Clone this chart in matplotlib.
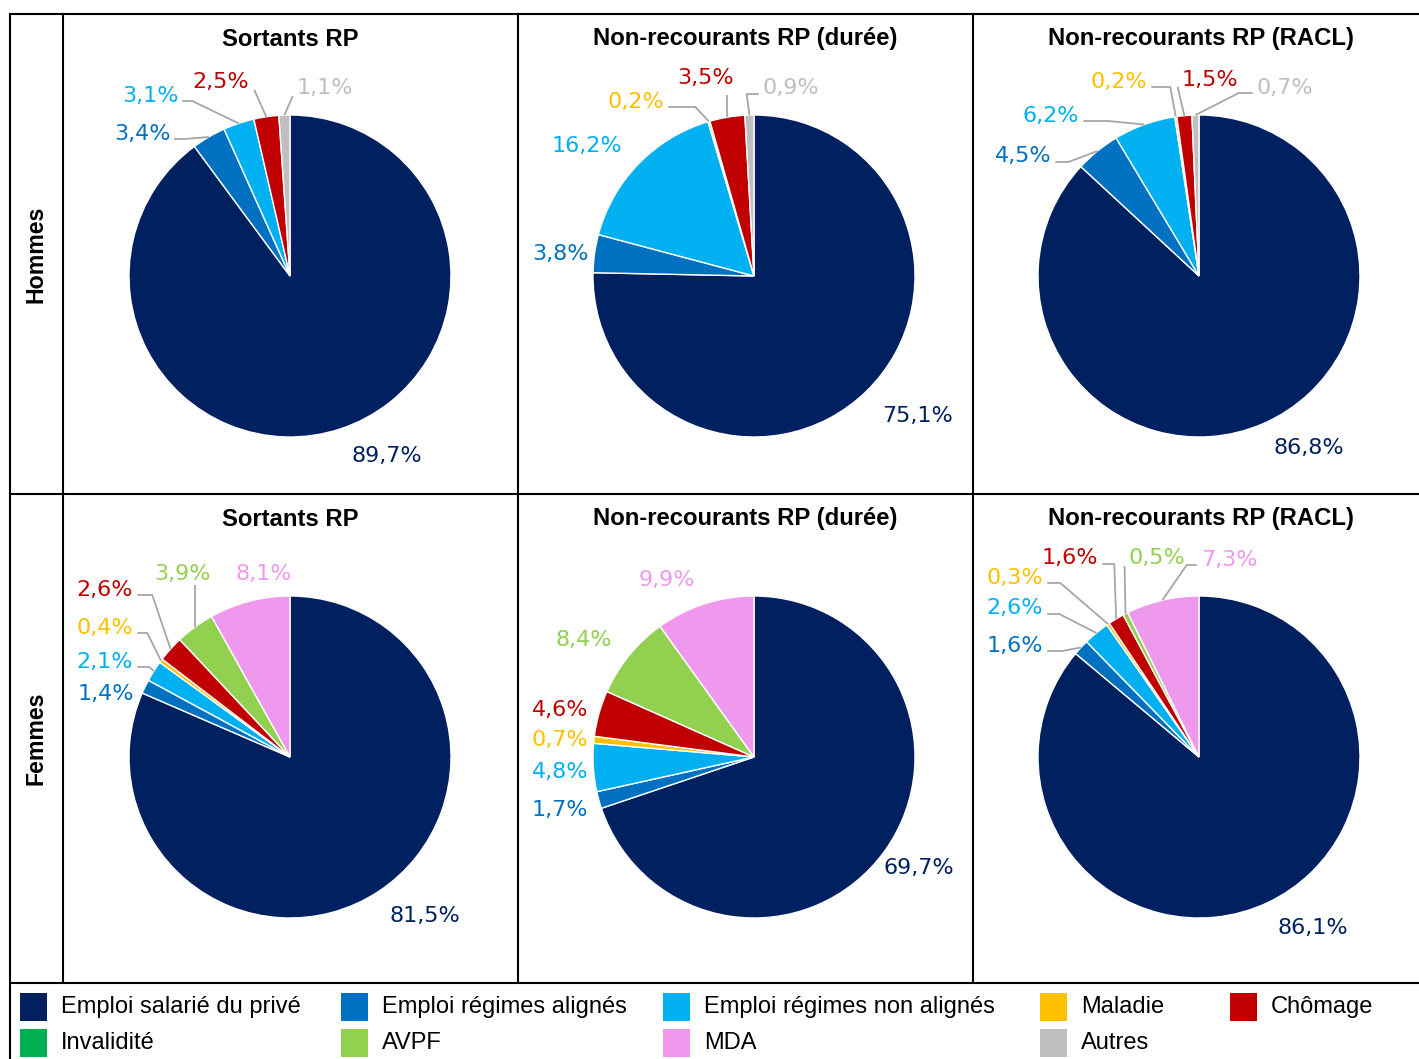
import numpy as np
import matplotlib
matplotlib.use("Agg")
import matplotlib.pyplot as plt
from matplotlib.patches import Rectangle

W, H = 1419, 1059

categories = ["Emploi salarié du privé", "Emploi régimes alignés", "Emploi régimes non alignés",
              "Maladie", "Chômage", "Invalidité", "AVPF", "MDA", "Autres"]
colors = ["#002060", "#0070C0", "#00B0F0", "#FFC000", "#C00000",
          "#00B050", "#92D050", "#EE99EE", "#BFBFBF"]

row_labels = ["Hommes", "Femmes"]
col_titles = ["Sortants RP", "Non-recourants RP (durée)", "Non-recourants RP (RACL)"]

# parts en %, dans l'ordre des categories
hommes_sortants = [89.7, 3.4, 3.1, 0.0, 2.5, 0.0, 0.0, 0.0, 1.1]
hommes_duree = [75.1, 3.8, 16.2, 0.2, 3.5, 0.0, 0.0, 0.0, 0.9]
hommes_racl = [86.8, 4.5, 6.2, 0.2, 1.5, 0.0, 0.0, 0.0, 0.7]
femmes_sortants = [81.5, 1.4, 2.1, 0.4, 2.6, 0.0, 3.9, 8.1, 0.0]
femmes_duree = [69.7, 1.7, 4.8, 0.7, 4.6, 0.0, 8.4, 9.9, 0.0]
femmes_racl = [86.1, 1.6, 2.6, 0.3, 1.6, 0.0, 0.5, 7.3, 0.0]

pies = [[hommes_sortants, hommes_duree, hommes_racl],
        [femmes_sortants, femmes_duree, femmes_racl]]

# layout (pixels): pie centres, radius, table grid (right border lies just off the image)
pie_cx = [290, 754, 1199]
pie_cy = [276, 757]
R = 161
col_x = [10, 63, 518, 973, 1428]
row_y = [14, 494, 983]

# label placement (x, y, leader style, length) for the non-zero slices, in order
label_layout = [
    [[(387, 454, None, 0), (142, 132, 'r', 10), (150, 94, 'r', 10), (221, 80, 'rb', 0), (325, 87, 'lb', 0)],
     [(918, 414, None, 0), (560, 252, None, 0), (587, 144, None, 0), (636, 100, 'r', 27),
      (706, 76, 'b', 7), (791, 87, 'l', 12)],
     [(1309, 447, None, 0), (1023, 155, 'r', 13), (1051, 114, 'r', 25), (1119, 80, 'r', 19),
      (1210, 78, 'lb', 0), (1285, 86, 'l', 14)]],
    [[(425, 915, None, 0), (106, 692, None, 0), (105, 660, 'r', 12), (105, 626, 'r', 10),
      (105, 588, 'r', 15), (183, 572, 'b', 1), (264, 573, None, 0)],
     [(919, 867, None, 0), (560, 808, None, 0), (560, 771, None, 0), (560, 739, None, 0),
      (560, 709, None, 0), (584, 638, None, 0), (667, 579, None, 0)],
     [(1313, 927, None, 0), (1015, 644, 'r', 15), (1015, 607, 'r', 12), (1015, 576, 'r', 13),
      (1070, 557, 'r', 12), (1157, 557, 'lb', 0), (1229, 558, 'l', 10)]],
]

fig = plt.figure(figsize=(W / 100, H / 100), dpi=100)

pie_axes = []
for i in range(2):
    row = []
    for j in range(3):
        cx, cy = pie_cx[j], pie_cy[i]
        pax = fig.add_axes([(cx - R) / W, 1 - (cy + R) / H, 2 * R / W, 2 * R / H])
        vals = [v for v in pies[i][j] if v > 0]
        cols = [c for v, c in zip(pies[i][j], colors) if v > 0]
        wedges, _ = pax.pie(vals, colors=cols, startangle=90, counterclock=False,
                            wedgeprops=dict(edgecolor="white", linewidth=1))
        pax.set_xlim(-1, 1)
        pax.set_ylim(-1, 1)
        pax.set_aspect("equal")
        pax.axis("off")
        row.append((pax, wedges, vals, cols))
    pie_axes.append(row)

ax = fig.add_axes([0, 0, 1, 1])
ax.set_xlim(0, W)
ax.set_ylim(H, 0)
ax.axis("off")
ax.set_zorder(5)
ax.patch.set_alpha(0)

# table grid
lw = 1.5
for y in row_y:
    ax.plot([col_x[0], W], [y, y], color="black", lw=lw)
ax.plot([col_x[0], col_x[0]], [row_y[0], H], color="black", lw=lw)
for x in col_x[1:4]:
    ax.plot([x, x], [row_y[0], row_y[2]], color="black", lw=lw)

for i, name in enumerate(row_labels):
    ax.text((col_x[0] + col_x[1]) / 2, (row_y[i] + row_y[i + 1]) / 2, name, rotation=90,
            ha="center", va="center", fontsize=16.7, fontweight="bold", family="Liberation Sans")
    for j, title in enumerate(col_titles):
        ax.text((col_x[j + 1] + col_x[j + 2]) / 2, row_y[i] + 25, title, ha="center", va="center",
                fontsize=17.2, fontweight="bold", family="Liberation Sans")

fig.canvas.draw()
renderer = fig.canvas.get_renderer()
to_data = ax.transData.inverted()

for i in range(2):
    for j in range(3):
        pax, wedges, vals, cols = pie_axes[i][j]
        for w, v, c, spec in zip(wedges, vals, cols, label_layout[i][j]):
            x, y, style, ln = spec
            txt = f"{v:.1f}".replace(".", ",") + "%"
            t = ax.text(x, y + 1.5, txt, ha="center", va="center", fontsize=16, color=c,
                        family="DejaVu Sans")
            if style is None:
                continue
            ang = np.deg2rad((w.theta1 + w.theta2) / 2)
            px, py = to_data.transform(pax.transData.transform((np.cos(ang), np.sin(ang))))
            bb = t.get_window_extent(renderer)
            x0, x1 = bb.x0, bb.x1
            ybot = H - bb.y0
            if style == 'r':
                pts = [(x1 + 4, y + 7), (x1 + 4 + ln, y + 7), (px, py)]
            elif style == 'l':
                pts = [(x0 - 4, y + 7), (x0 - 4 - ln, y + 7), (px, py)]
            elif style == 'rb':
                pts = [(x1 + 5, y + 10), (px, py)]
            elif style == 'lb':
                pts = [(x0 - 4, y + 9), (px, py)]
            else:
                pts = [(px, ybot + ln), (px, py)]
            xs, ys = zip(*pts)
            ax.plot(xs, ys, color="#A6A6A6", lw=1.3, solid_capstyle="butt")

# legend
leg_x = [20, 341, 663, 1040, 1230]
leg_y = [993, 1029]
for k, (name, c) in enumerate(zip(categories, colors)):
    r, col = divmod(k, 5)
    ax.add_patch(Rectangle((leg_x[col], leg_y[r]), 27, 28, color=c, lw=0))
    ax.text(leg_x[col] + 41, leg_y[r] + 14, name, ha="left", va="center", fontsize=17,
            family="Liberation Sans")

fig.savefig("out.png", dpi=100)
